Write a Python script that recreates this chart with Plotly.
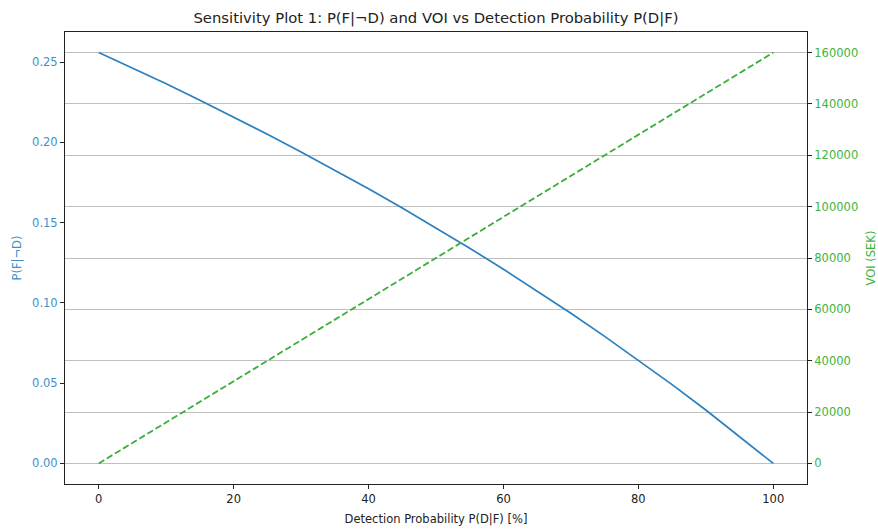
import plotly.graph_objects as go

# Data
detection_pct = [0, 5, 10, 15, 20, 25, 30, 35, 40, 45, 50, 55, 60, 65, 70, 75, 80, 85, 90, 95, 100]
p_f_not_d = [0.2560, 0.2464, 0.2365, 0.2263, 0.2159, 0.2051, 0.1941, 0.1828, 0.1711, 0.1591,
             0.1468, 0.1341, 0.1210, 0.1075, 0.0936, 0.0792, 0.0644, 0.0491, 0.0333, 0.0169, 0.0]
voi_pct = [0, 10, 20, 30, 40, 50, 60, 70, 80, 90, 100]
voi_sek = [0, 16000, 32000, 48000, 64000, 80000, 96000, 112000, 128000, 144000, 160000]

left_ticks = [0.00, 0.05, 0.10, 0.15, 0.20, 0.25]
left_ticktext = ["0.00", "0.05", "0.10", "0.15", "0.20", "0.25"]
right_ticks = [0, 20000, 40000, 60000, 80000, 100000, 120000, 140000, 160000]
x_ticks = [0, 20, 40, 60, 80, 100]

BLUE = "#2a80bf"
GREEN = "#3aae3a"
BLUE_TXT = "#3d8fcc"
GREEN_TXT = "#3eb33e"
FONT = "DejaVu Sans"

fig = go.Figure()
fig.add_trace(go.Scatter(x=detection_pct, y=p_f_not_d, mode="lines",
                         line=dict(color=BLUE, width=1.7), yaxis="y", showlegend=False))
fig.add_trace(go.Scatter(x=voi_pct, y=voi_sek, mode="lines",
                         line=dict(color=GREEN, width=1.8, dash="6.5px,3px"), yaxis="y2", showlegend=False))

axis_common = dict(showline=True, linecolor="#222222", linewidth=1, ticks="outside",
                   ticklen=4, tickwidth=1, tickcolor="#222222", zeroline=False,
                   automargin=False)

fig.update_layout(
    width=878, height=529,
    margin=dict(l=65, r=71, t=32, b=45),
    paper_bgcolor="white", plot_bgcolor="white",
    font=dict(family=FONT, size=11.5, color="#222222"),
    title=dict(text="Sensitivity Plot 1: P(F|¬D) and VOI vs Detection Probability P(D|F)",
               x=436 / 878, xanchor="center",
               y=1 - 18 / 529, yanchor="middle",
               font=dict(family=FONT, size=14.8, color="#222222")),
    xaxis=dict(range=[-5, 105], tickvals=x_ticks, showgrid=False, mirror=True,
               title=dict(text="Detection Probability P(D|F) [%]", standoff=10,
                          font=dict(size=11.5, color="#222222")),
               tickfont=dict(size=11.5, color="#222222"), **axis_common),
    yaxis=dict(range=[-0.0128, 0.2688], tickvals=left_ticks, ticktext=left_ticktext,
               showgrid=False,
               title=dict(text="P(F|¬D)", standoff=8, font=dict(size=11.5, color=BLUE_TXT)),
               tickfont=dict(size=11.5, color=BLUE_TXT), **axis_common),
    yaxis2=dict(range=[-8000, 168000], tickvals=right_ticks, overlaying="y", side="right",
                showgrid=True, gridcolor="#c0c0c0", gridwidth=1,
                tickformat="d",
                title=dict(text="VOI (SEK)", standoff=10, font=dict(size=11.5, color=GREEN_TXT)),
                tickfont=dict(size=11.5, color=GREEN_TXT), **axis_common),
)

fig.write_html("out.html")
